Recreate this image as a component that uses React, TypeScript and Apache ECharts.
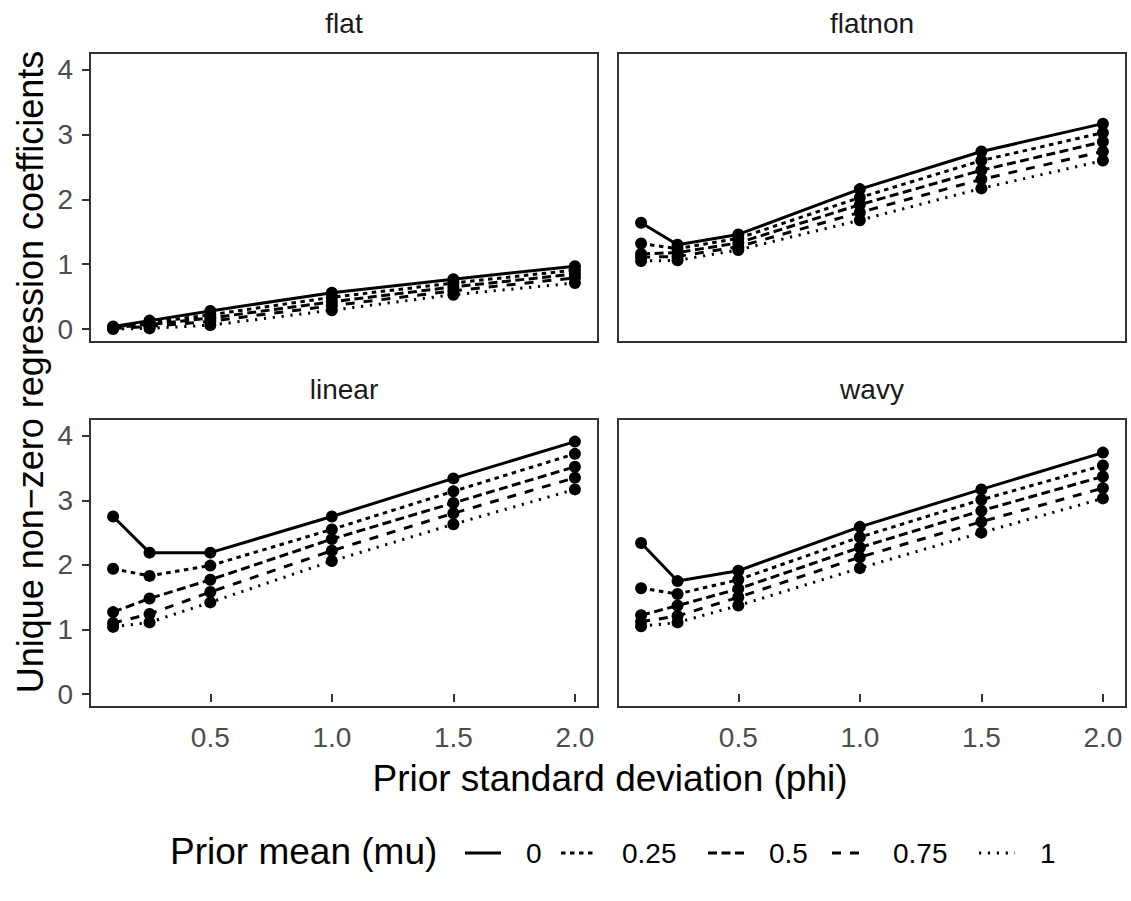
import React, { useEffect, useRef } from "react";
import * as echarts from "echarts";

const PHI = [0.1, 0.25, 0.5, 1.0, 1.5, 2.0];
const MU_LABELS = ["0", "0.25", "0.5", "0.75", "1"];
const PANELS = ["flat", "flatnon", "linear", "wavy"];
const X_TICKS = [0.5, 1.0, 1.5, 2.0];
const Y_TICKS = [0, 1, 2, 3, 4];

// rows: mu = 0, 0.25, 0.5, 0.75, 1 ; columns: phi values
const FLAT = [
  [0.04, 0.13, 0.28, 0.56, 0.77, 0.97],
  [0.03, 0.1, 0.22, 0.49, 0.71, 0.91],
  [0.02, 0.07, 0.17, 0.42, 0.65, 0.85],
  [0.01, 0.04, 0.12, 0.36, 0.59, 0.79],
  [0.0, 0.01, 0.06, 0.29, 0.53, 0.71],
];
const FLATNON = [
  [1.64, 1.3, 1.46, 2.16, 2.74, 3.17],
  [1.32, 1.24, 1.4, 2.03, 2.6, 3.03],
  [1.16, 1.18, 1.33, 1.92, 2.45, 2.89],
  [1.11, 1.12, 1.27, 1.8, 2.31, 2.74],
  [1.05, 1.06, 1.22, 1.68, 2.17, 2.6],
];
const LINEAR = [
  [2.75, 2.19, 2.19, 2.75, 3.34, 3.91],
  [1.94, 1.83, 1.99, 2.55, 3.14, 3.72],
  [1.27, 1.48, 1.77, 2.4, 2.96, 3.52],
  [1.1, 1.24, 1.58, 2.22, 2.8, 3.35],
  [1.04, 1.11, 1.42, 2.06, 2.63, 3.17],
];
const WAVY = [
  [2.34, 1.75, 1.91, 2.59, 3.17, 3.74],
  [1.64, 1.55, 1.77, 2.43, 3.01, 3.54],
  [1.22, 1.37, 1.63, 2.27, 2.84, 3.37],
  [1.12, 1.21, 1.5, 2.12, 2.67, 3.19],
  [1.05, 1.11, 1.37, 1.95, 2.5, 3.03],
];
const PANEL_DATA = [FLAT, FLATNON, LINEAR, WAVY];

const DASHES: any[] = ["solid", [4.5, 4.5], [9, 4.5], [9, 9], [2.2, 6.7]];
const FONT = '"Liberation Sans", Arial, Helvetica, sans-serif';

const GRIDS = [
  { left: 90, top: 53, width: 508, height: 289 },
  { left: 618, top: 53, width: 508, height: 289 },
  { left: 90, top: 419, width: 508, height: 288 },
  { left: 618, top: 419, width: 508, height: 288 },
];

export default function App() {
  const ref = useRef<HTMLDivElement>(null);
  useEffect(() => {
    document.body.style.margin = "0";
    const chart = echarts.init(ref.current!, undefined, { renderer: "svg" });

    const grid = GRIDS.map((g) => ({
      ...g,
      show: true,
      borderColor: "#333333",
      borderWidth: 2,
      backgroundColor: "#ffffff",
      containLabel: false,
    }));

    const xAxis = GRIDS.map((_, i) => ({
      type: "value",
      gridIndex: i,
      min: 0.005,
      max: 2.095,
      axisLine: { show: false },
      splitLine: { show: false },
      axisTick: {
        show: i >= 2,
        customValues: X_TICKS,
        length: 8,
        lineStyle: { color: "#333333", width: 2 },
      },
      axisLabel: {
        show: i >= 2,
        customValues: X_TICKS,
        formatter: (v: number) => v.toFixed(1),
        color: "#4d4d4d",
        fontSize: 28,
        fontFamily: FONT,
        margin: 16,
      },
    }));

    const yAxis = GRIDS.map((_, i) => ({
      type: "value",
      gridIndex: i,
      min: -0.2,
      max: 4.26,
      axisLine: { show: false },
      splitLine: { show: false },
      axisTick: {
        show: i % 2 === 0,
        customValues: Y_TICKS,
        length: 8,
        lineStyle: { color: "#333333", width: 2 },
      },
      axisLabel: {
        show: i % 2 === 0,
        customValues: Y_TICKS,
        formatter: (v: number) => String(v),
        color: "#4d4d4d",
        fontSize: 28,
        fontFamily: FONT,
        margin: 17,
      },
    }));

    const series: any[] = [];
    PANEL_DATA.forEach((panel, p) => {
      panel.forEach((vals, m) => {
        series.push({
          type: "line",
          name: MU_LABELS[m],
          xAxisIndex: p,
          yAxisIndex: p,
          data: PHI.map((x, k) => [x, vals[k]]),
          showSymbol: false,
          symbol: "none",
          lineStyle: { color: "#000000", width: 3, type: DASHES[m] },
          z: 2,
        });
      });
    });
    PANEL_DATA.forEach((panel, p) => {
      const pts: number[][] = [];
      panel.forEach((vals) => PHI.forEach((x, k) => pts.push([x, vals[k]])));
      series.push({
        type: "scatter",
        name: PANELS[p] + " points",
        xAxisIndex: p,
        yAxisIndex: p,
        data: pts,
        symbol: "circle",
        symbolSize: 12,
        itemStyle: { color: "#000000", opacity: 1 },
        z: 3,
      });
    });

    const graphics: any[] = [];
    const stripPos = [
      [344, 23],
      [872, 23],
      [344, 389],
      [872, 389],
    ];
    PANELS.forEach((name, p) => {
      graphics.push({
        type: "text",
        x: stripPos[p][0],
        y: stripPos[p][1],
        style: {
          text: name,
          fill: "#1a1a1a",
          font: `28px ${FONT}`,
          textAlign: "center",
          textVerticalAlign: "middle",
        },
      });
    });
    graphics.push({
      type: "text",
      x: 610,
      y: 778,
      style: {
        text: "Prior standard deviation (phi)",
        fill: "#000000",
        font: `37px ${FONT}`,
        textAlign: "center",
        textVerticalAlign: "middle",
      },
    });
    graphics.push({
      type: "text",
      x: 30,
      y: 372,
      rotation: Math.PI / 2,
      style: {
        text: "Unique non\u2212zero regression coefficients",
        fill: "#000000",
        font: `36px ${FONT}`,
        textAlign: "center",
        textVerticalAlign: "middle",
      },
    });
    // legend
    const LEG_Y = 851;
    graphics.push({
      type: "text",
      x: 170,
      y: LEG_Y,
      style: {
        text: "Prior mean (mu)",
        fill: "#000000",
        font: `37px ${FONT}`,
        textAlign: "left",
        textVerticalAlign: "middle",
      },
    });
    const labelX = [526, 622, 769, 893, 1040];
    MU_LABELS.forEach((lab, m) => {
      const kx = labelX[m] - 25 - 36;
      const d = DASHES[m];
      graphics.push({
        type: "line",
        shape: { x1: kx, y1: LEG_Y + 2, x2: kx + 36, y2: LEG_Y + 2 },
        style: {
          stroke: "#000000",
          lineWidth: 3,
          lineDash: Array.isArray(d) ? d : null,
        },
      });
      graphics.push({
        type: "text",
        x: labelX[m],
        y: LEG_Y + 2,
        style: {
          text: lab,
          fill: "#000000",
          font: `28px ${FONT}`,
          textAlign: "left",
          textVerticalAlign: "middle",
        },
      });
    });

    chart.setOption({
      animation: false,
      backgroundColor: "#ffffff",
      grid,
      xAxis,
      yAxis,
      series,
      graphic: graphics,
    });
    return () => chart.dispose();
  }, []);
  return <div ref={ref} style={{ width: 1131, height: 901 }} />;
}
